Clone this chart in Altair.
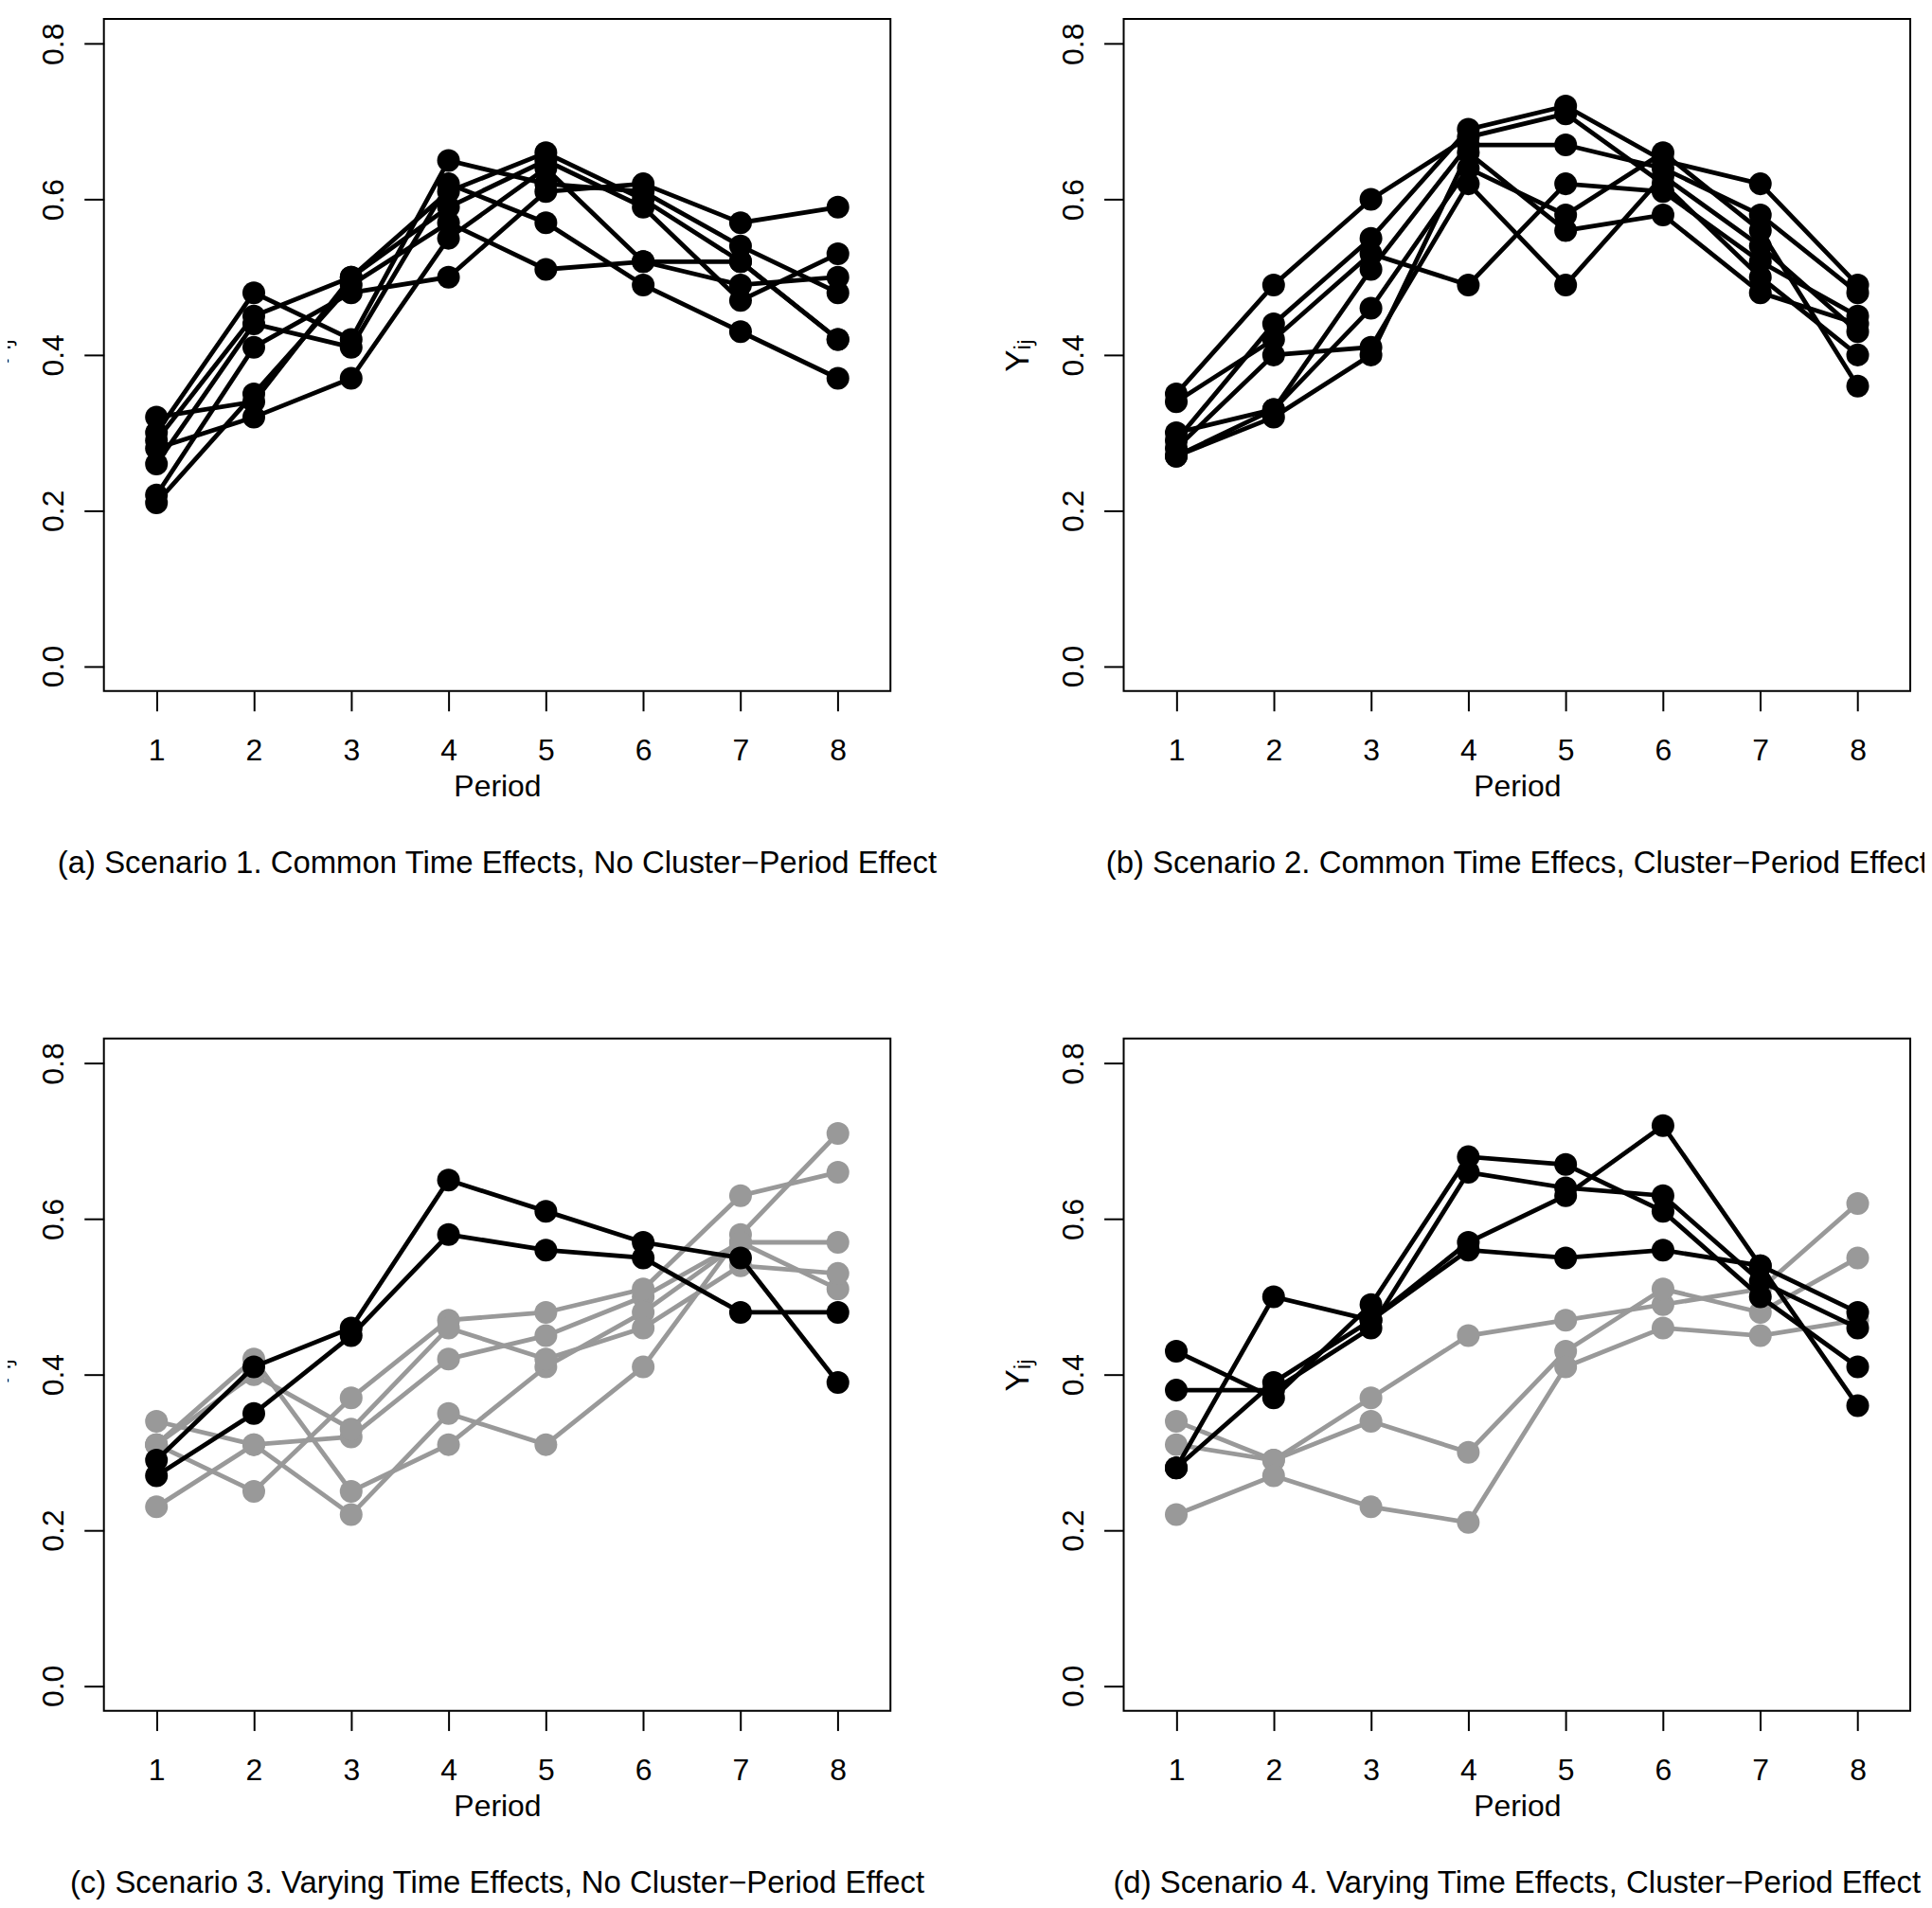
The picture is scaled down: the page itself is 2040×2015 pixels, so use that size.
import altair as alt
import pandas as pd

PERIODS = [1, 2, 3, 4, 5, 6, 7, 8]
Y_TICKS = [0.0, 0.2, 0.4, 0.6, 0.8]

# Scenario 1 (all clusters black)
S1_LINES = [
    [0.22, 0.41, 0.48, 0.50, 0.61, 0.62, 0.57, 0.59],
    [0.28, 0.32, 0.37, 0.55, 0.64, 0.52, 0.49, 0.50],
    [0.26, 0.44, 0.41, 0.62, 0.57, 0.49, 0.43, 0.37],
    [0.21, 0.35, 0.49, 0.57, 0.51, 0.52, 0.52, 0.42],
    [0.30, 0.48, 0.42, 0.65, 0.62, 0.61, 0.54, 0.48],
    [0.29, 0.45, 0.50, 0.61, 0.66, 0.60, 0.52, 0.42],
    [0.32, 0.34, 0.50, 0.59, 0.65, 0.59, 0.47, 0.53],
]
S1_SHADES = ["black"] * 7

# Scenario 2 (all clusters black)
S2_LINES = [
    [0.35, 0.49, 0.60, 0.68, 0.71, 0.62, 0.50, 0.40],
    [0.29, 0.44, 0.55, 0.69, 0.72, 0.65, 0.62, 0.49],
    [0.34, 0.42, 0.53, 0.49, 0.62, 0.61, 0.52, 0.45],
    [0.28, 0.40, 0.41, 0.62, 0.49, 0.63, 0.54, 0.43],
    [0.30, 0.33, 0.51, 0.67, 0.67, 0.64, 0.58, 0.48],
    [0.27, 0.33, 0.46, 0.64, 0.58, 0.66, 0.56, 0.36],
    [0.27, 0.32, 0.40, 0.66, 0.56, 0.58, 0.48, 0.44],
]
S2_SHADES = ["black"] * 7

# Scenario 3 (two black clusters, five grey)
S3_LINES = [
    [0.29, 0.41, 0.46, 0.65, 0.61, 0.57, 0.55, 0.39],
    [0.27, 0.35, 0.45, 0.58, 0.56, 0.55, 0.48, 0.48],
    [0.34, 0.31, 0.32, 0.42, 0.45, 0.50, 0.57, 0.57],
    [0.23, 0.31, 0.22, 0.35, 0.31, 0.41, 0.58, 0.71],
    [0.31, 0.25, 0.37, 0.47, 0.48, 0.51, 0.63, 0.66],
    [0.31, 0.42, 0.25, 0.31, 0.41, 0.48, 0.57, 0.51],
    [0.31, 0.40, 0.33, 0.46, 0.42, 0.46, 0.54, 0.53],
]
S3_SHADES = ["black", "black", "gray", "gray", "gray", "gray", "gray"]

# Scenario 4 (four black clusters, three grey)
S4_LINES = [
    [0.28, 0.50, 0.47, 0.57, 0.63, 0.72, 0.54, 0.36],
    [0.43, 0.37, 0.49, 0.68, 0.67, 0.61, 0.50, 0.41],
    [0.38, 0.38, 0.46, 0.66, 0.64, 0.63, 0.52, 0.46],
    [0.28, 0.39, 0.47, 0.56, 0.55, 0.56, 0.54, 0.48],
    [0.34, 0.29, 0.37, 0.45, 0.47, 0.49, 0.51, 0.62],
    [0.31, 0.29, 0.34, 0.30, 0.43, 0.51, 0.48, 0.55],
    [0.22, 0.27, 0.23, 0.21, 0.41, 0.46, 0.45, 0.47],
]
S4_SHADES = ["black", "black", "black", "black", "gray", "gray", "gray"]

CAPTIONS = [
    "(a) Scenario 1. Common Time Effects, No Cluster\u2212Period Effect",
    "(b) Scenario 2. Common Time Effecs, Cluster\u2212Period Effect",
    "(c) Scenario 3. Varying Time Effects, No Cluster\u2212Period Effect",
    "(d) Scenario 4. Varying Time Effects, Cluster\u2212Period Effect",
]

FONT = "Liberation Sans"
W, H = 833, 712


def make_frame(lines, shades):
    rows = []
    for i, (vals, shade) in enumerate(zip(lines, shades)):
        for p, v in zip(PERIODS, vals):
            rows.append({"period": p, "value": v, "cluster": i, "shade": shade})
    return pd.DataFrame(rows)


def panel(lines, shades, caption):
    df = make_frame(lines, shades)
    x = alt.X(
        "period:Q",
        scale=alt.Scale(domain=[0.46, 8.54], nice=False, zero=False),
        axis=alt.Axis(
            values=PERIODS, title="Period", format="d",
            labelPadding=27, labelBaseline="top",
            titleY=111, titleBaseline="alphabetic",
        ),
    )
    y = alt.Y(
        "value:Q",
        scale=alt.Scale(domain=[-0.032, 0.832], nice=False, zero=False),
        axis=alt.Axis(
            values=Y_TICKS, format=".1f", title="Y\u1d62\u2c7c",
            labelAngle=270, labelAlign="center", labelBaseline="alphabetic",
            labelPadding=22,
            titleAngle=270, titleAlign="center", titleBaseline="alphabetic",
            titleX=-101, titleY=H / 2, titleFontSize=35,
        ),
    )
    color = alt.Color(
        "shade:N",
        scale=alt.Scale(domain=["gray", "black"], range=["#999999", "#000000"]),
        legend=None,
    )
    layers = []
    for s in ["gray", "black"]:
        sub = df[df["shade"] == s]
        if len(sub) == 0:
            continue
        base = alt.Chart(sub)
        layers.append(
            base.mark_line(strokeWidth=4.8).encode(
                x=x, y=y, color=color, detail="cluster:N", order="period:Q"
            )
        )
        layers.append(
            base.mark_circle(size=580, opacity=1).encode(x=x, y=y, color=color)
        )
    return alt.layer(*layers).properties(
        width=W, height=H,
        title=alt.TitleParams(caption, orient="bottom", anchor="middle", offset=50),
    )


pa = panel(S1_LINES, S1_SHADES, CAPTIONS[0])
pb = panel(S2_LINES, S2_SHADES, CAPTIONS[1])
pc = panel(S3_LINES, S3_SHADES, CAPTIONS[2])
pd_ = panel(S4_LINES, S4_SHADES, CAPTIONS[3])

chart = (
    alt.concat(
        pa, pb, pc, pd_,
        columns=2,
        spacing={"row": 368, "column": 247},
        bounds="flush",
    )
    .properties(
        padding={"left": -28, "top": 8, "right": -6, "bottom": 0},
        background="white",
    )
    .configure_view(stroke="black", strokeWidth=2)
    .configure_axis(
        labelFont=FONT, labelFontSize=32, labelColor="black",
        titleFont=FONT, titleFontSize=32, titleFontWeight="normal", titleColor="black",
        tickColor="black", tickWidth=2, tickSize=21,
        domain=False, grid=False, labelFlush=False, labelOverlap=False,
    )
    .configure_title(font=FONT, fontSize=33, fontWeight="normal", color="black")
)

chart.save("out.html", embed_options={"renderer": "svg", "actions": False})
